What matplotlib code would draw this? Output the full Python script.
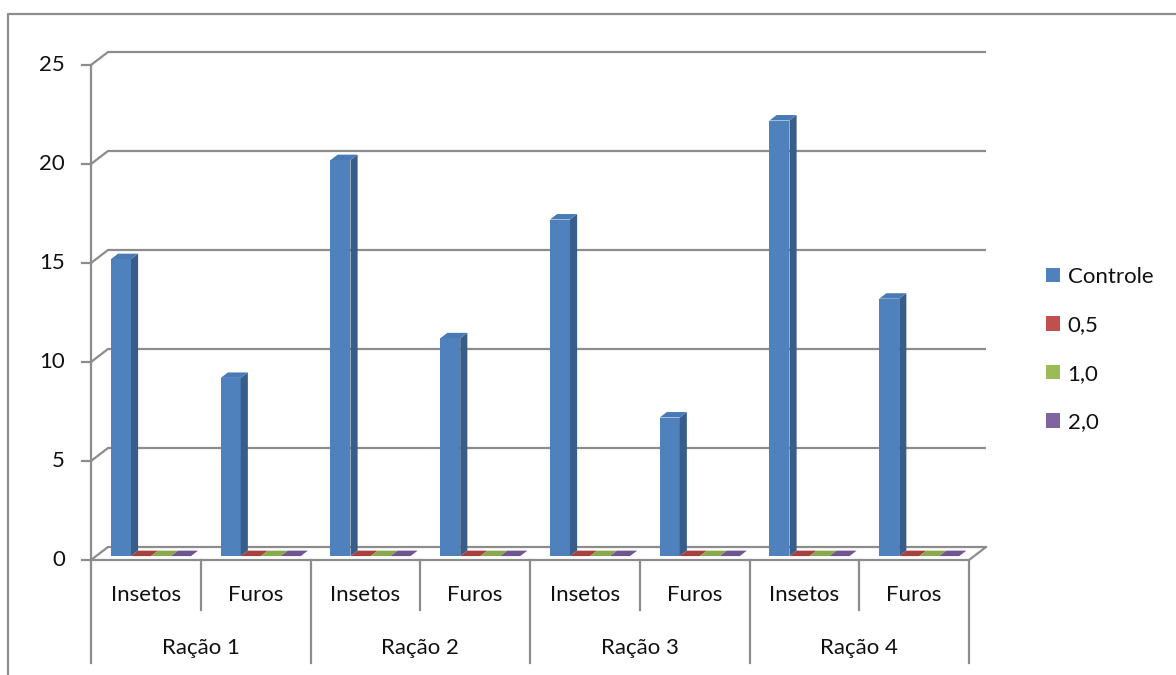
import matplotlib
matplotlib.use("Agg")
import matplotlib.pyplot as plt
from matplotlib.patches import Polygon, Patch
from matplotlib.lines import Line2D

plt.rcParams['font.family'] = ['Lato', 'DejaVu Sans']

# ---- data ----
groups = ["Ração 1", "Ração 2", "Ração 3", "Ração 4"]
subcats = ["Insetos", "Furos"]
series_names = ["Controle", "0,5", "1,0", "2,0"]
controle = [15, 9, 20, 11, 17, 7, 22, 13]
dose_05 = [0, 0, 0, 0, 0, 0, 0, 0]
dose_10 = [0, 0, 0, 0, 0, 0, 0, 0]
dose_20 = [0, 0, 0, 0, 0, 0, 0, 0]
yticks = [0, 5, 10, 15, 20, 25]

series_vals = [controle, dose_05, dose_10, dose_20]
front_cols = ["#4F81BD", "#C0504D", "#9BBB59", "#8064A2"]
side_cols = ["#385D8A", "#8E3B39", "#738B42", "#5E4A78"]
top_cols = ["#4A7AB5", "#A5413E", "#8AA94E", "#6F5690"]

# ---- figure geometry (pixels) ----
W, H, DPI = 1176, 675, 100
x_left, x_right = 91, 969
y0_px, ytop_px = 560, 65
ncat = len(controle)
ymax = 25
FS = 16
txt_col = '#111111'

fig = plt.figure(figsize=(W / DPI, H / DPI), dpi=DPI)
ax = fig.add_axes([x_left / W, (H - y0_px) / H, (x_right - x_left) / W, (y0_px - ytop_px) / H])
ax.set_xlim(0, ncat)
ax.set_ylim(0, ymax)
ax.axis('off')

px_x = (x_right - x_left) / ncat      # px per category
px_y = (y0_px - ytop_px) / ymax       # px per unit

def dxp(p):
    return p / px_x

def dyp(p):
    return p / px_y

DX, DY = dxp(17), dyp(13)             # full depth offset
grid_col = "#8C8C8C"
lw = 1.6

# walls / gridlines
for v in yticks:
    ax.plot([0, DX, ncat + DX], [v, v + DY, v + DY], color=grid_col, lw=lw, clip_on=False,
            solid_capstyle='butt', zorder=1)
    ax.plot([dxp(-9), 0], [v, v], color=grid_col, lw=lw, clip_on=False, zorder=1)
    ax.text(dxp(-26), v, str(v), ha='right', va='center', fontsize=FS, color=txt_col)

# floor front edge and right diagonal
ax.plot([0, ncat, ncat + DX], [0, 0, DY], color=grid_col, lw=lw, clip_on=False, zorder=1)

# y axis / category separators
ybot_long = dyp(560 - 663)
ybot_short = dyp(560 - 610)
ax.plot([0, 0], [ymax, ybot_long], color=grid_col, lw=lw, clip_on=False, zorder=1)
for i in range(1, ncat + 1):
    yb = ybot_long if i % 2 == 0 else ybot_short
    ax.plot([i, i], [0, yb], color=grid_col, lw=lw, clip_on=False, zorder=1)

# category labels
for i in range(ncat):
    ax.text(i + 0.5, dyp(560 - 595), subcats[i % 2], ha='center', va='center',
            fontsize=FS, color=txt_col)
for g, name in enumerate(groups):
    ax.text(2 * g + 1, dyp(560 - 648), name, ha='center', va='center',
            fontsize=FS, color=txt_col)

# 3D-ish bars
f1, f2 = 0.3, 0.72
bw = dxp(20)
total = bw * len(series_vals)
for s, vals in enumerate(series_vals):
    for i, v in enumerate(vals):
        x0 = i + 0.5 - total / 2 + s * bw + f1 * DX
        y0 = f1 * DY
        ox, oy = (f2 - f1) * DX, (f2 - f1) * DY
        z = 3 + s
        if v > 0:
            ax.bar(x0, v, width=bw, bottom=y0, align='edge', color=front_cols[s],
                   edgecolor='none', zorder=z, clip_on=False)
            ax.add_patch(Polygon([[x0 + bw, y0], [x0 + bw + ox, y0 + oy],
                                  [x0 + bw + ox, y0 + v + oy], [x0 + bw, y0 + v]],
                                 closed=True, fc=side_cols[s], ec='none', zorder=z, clip_on=False))
        ax.add_patch(Polygon([[x0, y0 + v], [x0 + bw, y0 + v],
                              [x0 + bw + ox, y0 + v + oy], [x0 + ox, y0 + v + oy]],
                             closed=True, fc=top_cols[s], ec='none', zorder=z, clip_on=False))

# outer border
fig.add_artist(Line2D([8 / W, 8 / W, 1.0], [0, 1 - 14 / H, 1 - 14 / H],
                      transform=fig.transFigure, color=grid_col, lw=lw))

# legend
handles = [Patch(facecolor=c, edgecolor='none') for c in front_cols]
fig.legend(handles, series_names, loc='upper left',
           bbox_to_anchor=(1046 / W, 1 - 267 / H), frameon=False,
           fontsize=FS, handlelength=0.63, handleheight=0.63, handletextpad=0.34,
           labelspacing=1.28, labelcolor=txt_col, borderaxespad=0, borderpad=0)

fig.savefig("out.png", dpi=DPI)
